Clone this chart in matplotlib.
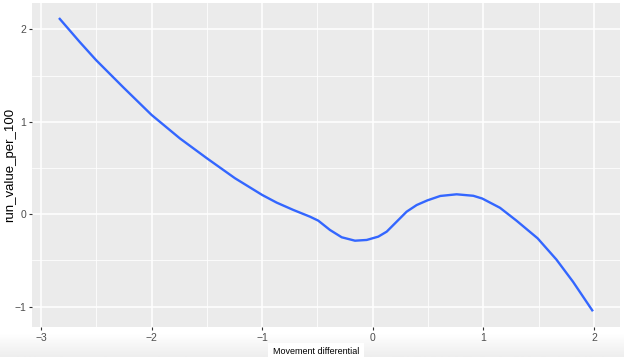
import matplotlib
matplotlib.use("Agg")
import matplotlib.pyplot as plt
import numpy as np
from matplotlib.ticker import MultipleLocator

x_vals = [-2.837, -2.65, -2.503, -2.256, -2.0, -1.743, -1.5, -1.246, -1.0, -0.869, -0.719,
          -0.568, -0.493, -0.387, -0.281, -0.161, -0.055, 0.05, 0.126, 0.216, 0.306, 0.397,
          0.493, 0.61, 0.758, 0.909, 0.99, 1.15, 1.30, 1.49, 1.66, 1.81, 1.99]
y_vals = [2.124, 1.865, 1.67, 1.374, 1.075, 0.82, 0.606, 0.39, 0.209, 0.126, 0.047,
          -0.026, -0.069, -0.17, -0.249, -0.286, -0.278, -0.242, -0.188, -0.08, 0.028, 0.10,
          0.150, 0.198, 0.216, 0.20, 0.17, 0.07, -0.07, -0.26, -0.49, -0.73, -1.05]

x_ticks = [-3, -2, -1, 0, 1, 2]
y_ticks = [-1, 0, 1, 2]

plt.rcParams["font.family"] = ["Liberation Sans", "DejaVu Sans"]

W, H = 624, 357
fig = plt.figure(figsize=(W / 100, H / 100), dpi=100)

# light gradient band at the bottom (screenshot backdrop)
bg = fig.add_axes([0, 0, 1, (H - 333) / H], zorder=-5)
grad = np.linspace(0.93, 1.0, 50).reshape(-1, 1)
bg.imshow(grad, aspect="auto", cmap="gray", vmin=0, vmax=1, origin="lower",
          extent=[0, 1, 0, 1])
bg.set_axis_off()

ax = fig.add_axes([32 / W, 1 - 327 / H, (620 - 32) / W, (327 - 3.3) / H])
ax.set_facecolor("#EBEBEB")
ax.plot(x_vals, y_vals, color="#3366FF", lw=1.7, solid_capstyle="butt",
        solid_joinstyle="round")
ax.set_xlim(-3.081, 2.235)
ax.set_ylim(-1.22, 2.283)
ax.set_xticks(x_ticks)
ax.set_yticks(y_ticks)
ax.xaxis.set_minor_locator(MultipleLocator(0.5))
ax.yaxis.set_minor_locator(MultipleLocator(0.5))
ax.grid(which="major", color="white", lw=1.1)
ax.grid(which="minor", color="white", lw=0.55)
ax.set_axisbelow(True)
for s in ax.spines.values():
    s.set_visible(False)
ax.tick_params(which="major", length=2.5, width=0.8, color="#333333", labelsize=7.5,
               labelcolor="#4D4D4D", pad=1.5)
ax.tick_params(which="minor", length=0)

fig.text(10 / W, 1 - 165 / H, "run_value_per_100", rotation=90, fontsize=9.5,
         ha="center", va="center", color="black")
fig.text(316 / W, 1 - 352 / H, "Movement differential", fontsize=6.5, ha="center",
         va="center", color="black",
         bbox=dict(boxstyle="square,pad=0.5", fc="white", ec="none"))
fig.savefig("out.png", dpi=100, facecolor="white")
